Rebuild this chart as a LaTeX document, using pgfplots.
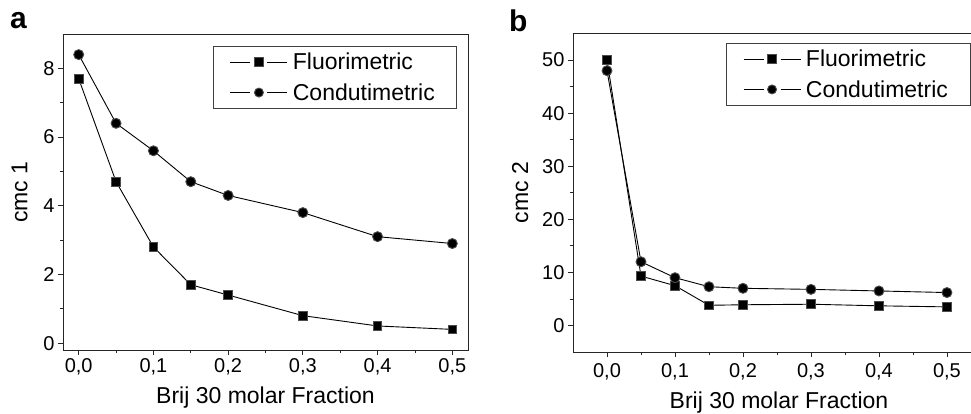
\documentclass[border=0pt]{standalone}
\usepackage{pgfplots}
\pgfplotsset{compat=1.18}
\usepackage{fontspec}
\setmainfont{Liberation Sans}

\pgfplotsset{
  panel/.style={
    scale only axis,
    axis line style={line width=0.9pt, black!85},
    tick align=outside, tick pos=left,
    major tick length=5pt, minor tick length=3pt,
    every tick/.style={line width=0.8pt, black!85},
    minor x tick num=1, minor y tick num=1,
    /pgf/number format/assume math mode=true,
    tick label style={font=\fontsize{20}{22}\selectfont},
    label style={font=\fontsize{23}{25}\selectfont},
    xtick={0,0.1,0.2,0.3,0.4,0.5},
    xticklabel style={/pgf/number format/fixed, /pgf/number format/fixed zerofill,
      /pgf/number format/precision=1, /pgf/number format/use comma},
    xlabel={Brij 30 molar Fraction},
    legend style={draw=black!75, line width=0.6pt, font=\fontsize{23}{25}\selectfont,
      inner xsep=17pt, inner ysep=5pt, row sep=8pt, cells={anchor=west},
      nodes={inner xsep=5pt}},
    legend image code/.code={
      \draw[#1, mark=none] (0pt,0pt) -- (20pt,0pt);
      \draw[#1, mark=none] (37pt,0pt) -- (57pt,0pt);
      \draw[#1, mark size=4.5pt] plot coordinates {(28.5pt,0pt)};},
  },
  fluo/.style={black, line width=0.9pt, mark=square*, mark size=4.3pt,
    mark options={fill=black, draw=black!70}},
  cond/.style={black, line width=0.9pt, mark=*, mark size=5pt,
    mark options={fill=black, draw=black!70}},
}

\begin{document}
\begin{tikzpicture}
\useasboundingbox (0pt,0pt) rectangle (971pt,413pt);

% panel a
\node[anchor=north west, inner sep=0pt, font=\fontsize{30}{30}\selectfont\bfseries] at (10pt,401pt) {a};
\begin{axis}[panel,
  at={(63pt,63pt)}, anchor=south west,
  width=405pt, height=316pt,
  xmin=-0.021, xmax=0.521, ymin=-0.2, ymax=9,
  ytick={0,2,4,6,8},
  ylabel={cmc 1},
  ylabel style={yshift=9pt},
  xlabel style={yshift=-5pt},
  legend style={at={(0.973,0.962)}, anchor=north east},
]
\addplot[fluo] coordinates {
  (0,7.7)(0.05,4.7)(0.1,2.8)(0.15,1.7)(0.2,1.4)(0.3,0.8)(0.4,0.5)(0.5,0.4)};
\addlegendentry{Fluorimetric}
\addplot[cond] coordinates {
  (0,8.4)(0.05,6.4)(0.1,5.6)(0.15,4.7)(0.2,4.3)(0.3,3.8)(0.4,3.1)(0.5,2.9)};
\addlegendentry{Condutimetric}
\end{axis}

% panel b
\node[anchor=north west, inner sep=0pt, font=\fontsize{30}{30}\selectfont\bfseries] at (509pt,403pt) {b};
\begin{axis}[panel,
  at={(573pt,61pt)}, anchor=south west,
  width=412pt, height=319pt,
  xmin=-0.05, xmax=0.556, ymin=-5, ymax=55.1,
  ytick={0,10,20,30,40,50},
  ylabel={cmc 2},
  ylabel style={yshift=7pt},
  xticklabel style={yshift=-3pt},
  xlabel style={yshift=-5pt},
  legend style={at={(0.964,0.969)}, anchor=north east},
]
\addplot[fluo] coordinates {
  (0,50)(0.05,9.3)(0.1,7.5)(0.15,3.8)(0.2,3.9)(0.3,4.0)(0.4,3.7)(0.5,3.5)};
\addlegendentry{Fluorimetric}
\addplot[cond] coordinates {
  (0,48)(0.05,12)(0.1,9)(0.15,7.3)(0.2,7.0)(0.3,6.8)(0.4,6.5)(0.5,6.2)};
\addlegendentry{Condutimetric}
\end{axis}
\end{tikzpicture}
\end{document}
